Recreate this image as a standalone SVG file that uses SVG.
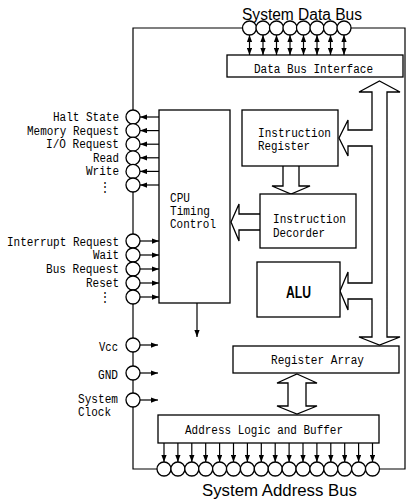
<svg xmlns="http://www.w3.org/2000/svg" width="407" height="501" viewBox="0 0 407 501">
<style>
.bx{fill:#fff;stroke:#000;stroke-width:1.3}
.c{fill:#fff;stroke:#000;stroke-width:1.3}
.ln{fill:none;stroke:#000;stroke-width:1.2}
.ha{fill:#fff;stroke:#000;stroke-width:1.3;stroke-linejoin:miter}
.t{font-family:"Liberation Mono","DejaVu Sans Mono",monospace;font-size:12px;fill:#000}
.s{font-family:"Liberation Sans",Arial,sans-serif;font-size:16px;fill:#000}
.d{font-family:"DejaVu Sans Mono",monospace;font-size:12px;fill:#000}
</style>
<defs>
<marker id="ah" viewBox="0 0 8 6" refX="8" refY="3" markerWidth="7" markerHeight="5.5" orient="auto-start-reverse" markerUnits="userSpaceOnUse"><path d="M0,0 L8,3 L0,6 z" fill="#000"/></marker>
</defs>
<rect width="407" height="501" fill="#fff"/>

<g id="connectors">
<!-- bus frame lines -->
<polyline class="ln" points="133,110 133,28 242.5,28"/>
<polyline class="ln" points="351,28 405,28 405,469 379.5,469"/>
<polyline class="ln" points="133,407 133,469 157,469"/>
<line class="ln" x1="133" y1="192" x2="133" y2="234"/>
<line class="ln" x1="133" y1="304" x2="133" y2="338"/>
<line class="ln" x1="133" y1="352" x2="133" y2="366"/>
<line class="ln" x1="133" y1="380" x2="133" y2="393"/>
<!-- data bus double arrows -->
<g marker-start="url(#ah)" marker-end="url(#ah)">
<line class="ln" x1="249.5" y1="35" x2="249.5" y2="55"/>
<line class="ln" x1="263" y1="35" x2="263" y2="55"/>
<line class="ln" x1="276.5" y1="35" x2="276.5" y2="55"/>
<line class="ln" x1="290" y1="35" x2="290" y2="55"/>
<line class="ln" x1="303.5" y1="35" x2="303.5" y2="55"/>
<line class="ln" x1="317" y1="35" x2="317" y2="55"/>
<line class="ln" x1="330.5" y1="35" x2="330.5" y2="55"/>
<line class="ln" x1="344" y1="35" x2="344" y2="55"/>
</g>
<!-- outputs from CPU timing control -->
<g marker-end="url(#ah)">
<line class="ln" x1="159" y1="117" x2="140" y2="117"/>
<line class="ln" x1="159" y1="130.6" x2="140" y2="130.6"/>
<line class="ln" x1="159" y1="144.2" x2="140" y2="144.2"/>
<line class="ln" x1="159" y1="157.8" x2="140" y2="157.8"/>
<line class="ln" x1="159" y1="171.4" x2="140" y2="171.4"/>
<line class="ln" x1="159" y1="185" x2="140" y2="185"/>
<!-- inputs -->
<line class="ln" x1="140" y1="241" x2="159" y2="241"/>
<line class="ln" x1="140" y1="255" x2="159" y2="255"/>
<line class="ln" x1="140" y1="269" x2="159" y2="269"/>
<line class="ln" x1="140" y1="283" x2="159" y2="283"/>
<line class="ln" x1="140" y1="297" x2="159" y2="297"/>
<line class="ln" x1="140" y1="345" x2="158" y2="345"/>
<line class="ln" x1="140" y1="373" x2="158" y2="373"/>
<line class="ln" x1="140" y1="400" x2="158" y2="400"/>
<!-- CPU down arrow -->
<line class="ln" x1="197" y1="303" x2="197" y2="337"/>
<!-- address bus arrows -->
<line class="ln" x1="164" y1="443" x2="164" y2="462"/>
<line class="ln" x1="177.9" y1="443" x2="177.9" y2="462"/>
<line class="ln" x1="191.8" y1="443" x2="191.8" y2="462"/>
<line class="ln" x1="205.7" y1="443" x2="205.7" y2="462"/>
<line class="ln" x1="219.6" y1="443" x2="219.6" y2="462"/>
<line class="ln" x1="233.5" y1="443" x2="233.5" y2="462"/>
<line class="ln" x1="247.4" y1="443" x2="247.4" y2="462"/>
<line class="ln" x1="261.3" y1="443" x2="261.3" y2="462"/>
<line class="ln" x1="275.2" y1="443" x2="275.2" y2="462"/>
<line class="ln" x1="289.1" y1="443" x2="289.1" y2="462"/>
<line class="ln" x1="303" y1="443" x2="303" y2="462"/>
<line class="ln" x1="316.9" y1="443" x2="316.9" y2="462"/>
<line class="ln" x1="330.8" y1="443" x2="330.8" y2="462"/>
<line class="ln" x1="344.7" y1="443" x2="344.7" y2="462"/>
<line class="ln" x1="358.6" y1="443" x2="358.6" y2="462"/>
<line class="ln" x1="372.5" y1="443" x2="372.5" y2="462"/>
</g>
<!-- hollow arrows -->
<path class="ha" d="M379.5,81 L400,92 L387,92 L387,337 L400,337 L379.5,345 L359,337 L372,337 L372,299 L348,299 L348,310 L340,291 L348,272 L348,283 L372,283 L372,146 L348,146 L348,156 L339,138 L348,120 L348,130 L372,130 L372,92 L359,92 Z"/>
<path class="ha" d="M283,166 L283,186 L272,186 L291,194 L310,186 L299,186 L299,166"/>
<path class="ha" d="M260,214 L239,214 L239,204 L231,222 L239,241 L239,230 L260,230"/>
<path class="ha" d="M297,374 L317,383 L306,383 L306,406 L317,406 L297,414 L277,406 L288,406 L288,383 L277,383 Z"/>
</g>

<g id="data-bus">
<text class="s" x="242" y="20" textLength="120" lengthAdjust="spacingAndGlyphs">System Data Bus</text>
<circle class="c" cx="249.5" cy="28" r="7"/>
<circle class="c" cx="263" cy="28" r="7"/>
<circle class="c" cx="276.5" cy="28" r="7"/>
<circle class="c" cx="290" cy="28" r="7"/>
<circle class="c" cx="303.5" cy="28" r="7"/>
<circle class="c" cx="317" cy="28" r="7"/>
<circle class="c" cx="330.5" cy="28" r="7"/>
<circle class="c" cx="344" cy="28" r="7"/>
</g>

<g id="data-bus-interface">
<rect class="bx" x="227" y="55" width="176" height="22"/>
<text class="t" x="254" y="73" textLength="119" lengthAdjust="spacingAndGlyphs">Data Bus Interface</text>
</g>

<g id="cpu-timing-control">
<rect class="bx" x="159" y="110" width="71" height="193"/>
<text class="t" x="170" y="202" textLength="20" lengthAdjust="spacingAndGlyphs">CPU</text>
<text class="t" x="170" y="215" textLength="40" lengthAdjust="spacingAndGlyphs">Timing</text>
<text class="t" x="170" y="228" textLength="46" lengthAdjust="spacingAndGlyphs">Control</text>
</g>

<g id="instruction-register">
<rect class="bx" x="242" y="110" width="96" height="56"/>
<text class="t" x="258" y="137" textLength="73" lengthAdjust="spacingAndGlyphs">Instruction</text>
<text class="t" x="258" y="150" textLength="52" lengthAdjust="spacingAndGlyphs">Register</text>
</g>

<g id="instruction-decorder">
<rect class="bx" x="260" y="194" width="96" height="54"/>
<text class="t" x="273" y="223" textLength="73" lengthAdjust="spacingAndGlyphs">Instruction</text>
<text class="t" x="273" y="237" textLength="52" lengthAdjust="spacingAndGlyphs">Decorder</text>
</g>

<g id="alu">
<rect class="bx" x="257" y="262" width="83" height="55"/>
<text x="286" y="298" font-family="Liberation Sans, Arial, sans-serif" font-size="16" font-weight="bold" textLength="25" lengthAdjust="spacingAndGlyphs">ALU</text>
</g>

<g id="register-array">
<rect class="bx" x="233" y="346" width="166" height="27"/>
<text class="t" x="271" y="364" textLength="93" lengthAdjust="spacingAndGlyphs">Register Array</text>
</g>

<g id="address-logic">
<rect class="bx" x="158" y="415" width="221" height="28"/>
<text class="t" x="185" y="434" textLength="158" lengthAdjust="spacingAndGlyphs">Address Logic and Buffer</text>
</g>

<g id="address-bus">
<circle class="c" cx="164" cy="469" r="7"/>
<circle class="c" cx="177.9" cy="469" r="7"/>
<circle class="c" cx="191.8" cy="469" r="7"/>
<circle class="c" cx="205.7" cy="469" r="7"/>
<circle class="c" cx="219.6" cy="469" r="7"/>
<circle class="c" cx="233.5" cy="469" r="7"/>
<circle class="c" cx="247.4" cy="469" r="7"/>
<circle class="c" cx="261.3" cy="469" r="7"/>
<circle class="c" cx="275.2" cy="469" r="7"/>
<circle class="c" cx="289.1" cy="469" r="7"/>
<circle class="c" cx="303" cy="469" r="7"/>
<circle class="c" cx="316.9" cy="469" r="7"/>
<circle class="c" cx="330.8" cy="469" r="7"/>
<circle class="c" cx="344.7" cy="469" r="7"/>
<circle class="c" cx="358.6" cy="469" r="7"/>
<circle class="c" cx="372.5" cy="469" r="7"/>
<text class="s" x="202" y="496" textLength="155" lengthAdjust="spacingAndGlyphs">System Address Bus</text>
</g>

<g id="output-pins">
<circle class="c" cx="133" cy="117" r="7"/>
<circle class="c" cx="133" cy="130.6" r="7"/>
<circle class="c" cx="133" cy="144.2" r="7"/>
<circle class="c" cx="133" cy="157.8" r="7"/>
<circle class="c" cx="133" cy="171.4" r="7"/>
<circle class="c" cx="133" cy="185" r="7"/>
<text class="t" x="119" y="121" text-anchor="end" textLength="66" lengthAdjust="spacingAndGlyphs">Halt State</text>
<text class="t" x="119" y="135" text-anchor="end" textLength="92" lengthAdjust="spacingAndGlyphs">Memory Request</text>
<text class="t" x="119" y="148" text-anchor="end" textLength="73" lengthAdjust="spacingAndGlyphs">I/O Request</text>
<text class="t" x="119" y="162" text-anchor="end" textLength="26" lengthAdjust="spacingAndGlyphs">Read</text>
<text class="t" x="119" y="175" text-anchor="end" textLength="33" lengthAdjust="spacingAndGlyphs">Write</text>
<text class="d" x="105" y="191" text-anchor="middle">⋮</text>
</g>

<g id="input-pins">
<circle class="c" cx="133" cy="241" r="7"/>
<circle class="c" cx="133" cy="255" r="7"/>
<circle class="c" cx="133" cy="269" r="7"/>
<circle class="c" cx="133" cy="283" r="7"/>
<circle class="c" cx="133" cy="297" r="7"/>
<text class="t" x="119" y="246" text-anchor="end" textLength="112" lengthAdjust="spacingAndGlyphs">Interrupt Request</text>
<text class="t" x="119" y="259" text-anchor="end" textLength="26" lengthAdjust="spacingAndGlyphs">Wait</text>
<text class="t" x="119" y="273" text-anchor="end" textLength="73" lengthAdjust="spacingAndGlyphs">Bus Request</text>
<text class="t" x="119" y="287" text-anchor="end" textLength="33" lengthAdjust="spacingAndGlyphs">Reset</text>
<text class="d" x="105" y="301" text-anchor="middle">⋮</text>
</g>

<g id="power-clock-pins">
<circle class="c" cx="133" cy="345" r="7"/>
<circle class="c" cx="133" cy="373" r="7"/>
<circle class="c" cx="133" cy="400" r="7"/>
<text class="t" x="118" y="351" text-anchor="end" textLength="19" lengthAdjust="spacingAndGlyphs">Vcc</text>
<text class="t" x="118" y="379" text-anchor="end" textLength="20" lengthAdjust="spacingAndGlyphs">GND</text>
<text class="t" x="78" y="403" textLength="40" lengthAdjust="spacingAndGlyphs">System</text>
<text class="t" x="78" y="416" textLength="33" lengthAdjust="spacingAndGlyphs">Clock</text>
</g>
</svg>
